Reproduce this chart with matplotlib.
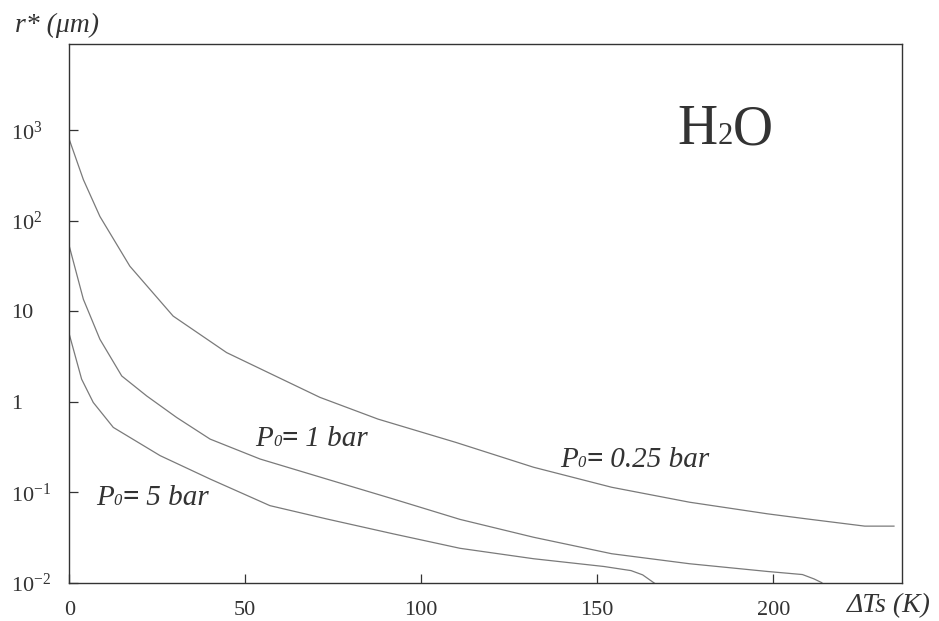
import matplotlib
matplotlib.use("Agg")
import matplotlib.pyplot as plt
import matplotlib.transforms as mtransforms
from matplotlib.ticker import NullLocator

plt.rcParams["font.family"] = ["Liberation Serif", "DejaVu Serif"]
plt.rcParams["mathtext.fontset"] = "custom"
plt.rcParams["mathtext.rm"] = "Liberation Serif"
plt.rcParams["mathtext.it"] = "Liberation Serif:italic"
plt.rcParams["mathtext.bf"] = "Liberation Serif:bold"

# critical radius r* (um) vs supersaturation dT (K), three initial pressures
dt_025 = [0, 4, 8.7, 17.2, 29.5, 44.7, 58.9, 71.2, 87.7, 109.8, 131.9,
          154.1, 176.2, 198.4, 209.4, 226, 234.3]
r_025 = [794, 286, 112, 31.6, 8.87, 3.50, 1.90, 1.12, 0.644, 0.356, 0.189,
         0.1135, 0.0776, 0.0577, 0.0508, 0.0422, 0.0422]

dt_1 = [0, 4, 8.7, 14.9, 22, 30.5, 40, 54.2, 73.1, 92, 111, 131.9, 154.1,
        176.2, 198.4, 208.3, 211.6, 213.8]
r_1 = [52.5, 13.6, 4.91, 1.93, 1.16, 0.671, 0.387, 0.233, 0.140, 0.0843,
       0.0501, 0.0318, 0.0209, 0.0162, 0.0133, 0.0123, 0.0110, 0.0100]

dt_5 = [0, 3.5, 6.8, 12.5, 25.8, 40, 57, 73.1, 92, 111, 131.9, 151.9,
        159.6, 162.9, 166.2]
r_5 = [5.57, 1.78, 0.984, 0.521, 0.254, 0.140, 0.0711, 0.0507, 0.0347,
       0.0240, 0.0184, 0.0151, 0.0136, 0.0122, 0.0099]

x_ticks = [0, 50, 100, 150, 200]
y_ticks = [1e-2, 1e-1, 1, 10, 1e2, 1e3]
y_ticklabels = [r"$10^{-2}$", r"$10^{-1}$", "1", "10", r"$10^{2}$", r"$10^{3}$"]

ink = "#333333"
line_col = "#7a7a7a"

fig = plt.figure(figsize=(9.39, 6.21), dpi=100)
ax = fig.add_axes([0.0738, 0.0617, 0.8865, 0.8674])

for dt, r in [(dt_025, r_025), (dt_1, r_1), (dt_5, r_5)]:
    ax.plot(dt, r, color=line_col, lw=0.9)

ax.set_yscale("log")
ax.set_xlim(0, 236.5)
ax.set_ylim(1e-2, 10 ** 3.956)

ax.set_xticks(x_ticks)
ax.set_xticklabels([str(v) for v in x_ticks])
ax.set_yticks(y_ticks)
ax.set_yticklabels(y_ticklabels)
ax.yaxis.set_minor_locator(NullLocator())
ax.xaxis.set_minor_locator(NullLocator())

ax.tick_params(axis="both", direction="in", length=6.5, width=0.9,
               color=ink, labelcolor=ink, top=False, right=False)
ax.tick_params(axis="x", labelsize=16, pad=13)
ax.tick_params(axis="y", labelsize=16, pad=42)
for lab in ax.get_yticklabels():
    lab.set_horizontalalignment("left")

for sp in ax.spines.values():
    sp.set_color(ink)
    sp.set_linewidth(1.0)

fig.canvas.draw()
renderer = fig.canvas.get_renderer()


def run_text(x, y, pieces, transform):
    """Write text pieces one after another on a shared baseline."""
    offset = 0.0
    for s, kw in pieces:
        tr = mtransforms.offset_copy(transform, fig=fig, x=offset, y=0,
                                     units="dots")
        t = ax.text(x, y, s, transform=tr, color=ink, va="baseline",
                    ha="left", **kw)
        offset += t.get_window_extent(renderer).width


big = dict(fontsize=21, style="italic")
sub = dict(fontsize=12, style="italic")
eq = dict(fontsize=21, fontweight="bold")


def p_label(x, y, value):
    run_text(x, y, [("P", big), ("0", sub), ("=", eq), (" " + value, big)],
             ax.transData)


p_label(52.8, 0.327, "1 bar")
p_label(7.6, 0.0724, "5 bar")
p_label(139.4, 0.189, "0.25 bar")

# H2O with a small baseline-aligned 2
run_text(0.731, 0.814, [("H", dict(fontsize=40)), ("2", dict(fontsize=22)),
                        ("O", dict(fontsize=40))], ax.transAxes)

# axis titles
fig.text(15 / 939, 1 - 31.7 / 621, "r* (μm)", fontsize=20, style="italic",
         color=ink, va="baseline", ha="left")
fig.text(847 / 939, 1 - 611.7 / 621, "ΔTs (K)", fontsize=20, style="italic",
         color=ink, va="baseline", ha="left")

fig.savefig("out.png", dpi=100)
